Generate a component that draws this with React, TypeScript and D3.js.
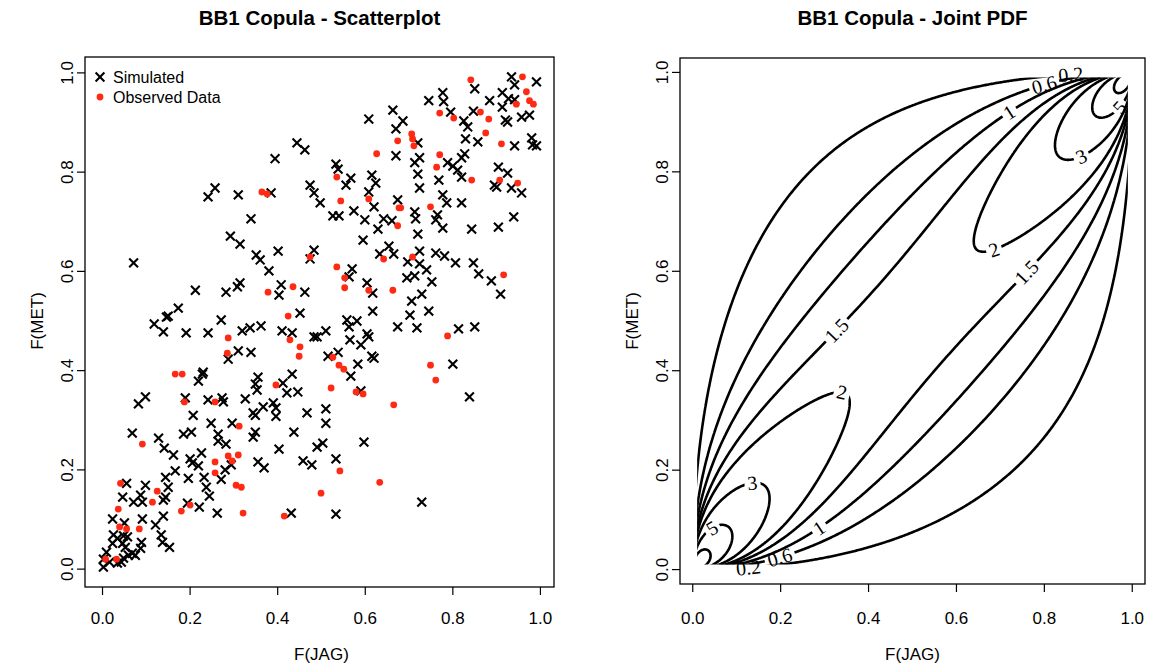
import React, { useMemo } from "react";
import * as d3 from "d3";

// ---------- scatterplot data (pseudo-observations) ----------
const simJag = [
  0.241, 0.257, 0.310, 0.292, 0.314, 0.071, 0.212, 0.282, 0.308, 0.314,
  0.173, 0.150, 0.146, 0.118, 0.139, 0.191, 0.241, 0.271, 0.319, 0.310,
  0.287, 0.230, 0.228, 0.219, 0.098, 0.082, 0.189, 0.241, 0.273, 0.276,
  0.326, 0.663, 0.608, 0.670, 0.670, 0.444, 0.462, 0.394, 0.533, 0.538,
  0.567, 0.556, 0.615, 0.624, 0.608, 0.620, 0.674, 0.474, 0.483, 0.497,
  0.385, 0.339, 0.526, 0.540, 0.574, 0.599, 0.629, 0.642, 0.661, 0.850,
  0.934, 0.991, 0.941, 0.913, 0.927, 0.941, 0.913, 0.777, 0.779, 0.745,
  0.884, 0.795, 0.847, 0.825, 0.834, 0.920, 0.925, 0.957, 0.975, 0.686,
  0.829, 0.857, 0.941, 0.980, 0.982, 0.991, 0.720, 0.827, 0.820, 0.724,
  0.713, 0.788, 0.800, 0.811, 0.720, 0.820, 0.904, 0.925, 0.895, 0.900,
  0.934, 0.957, 0.724, 0.768, 0.777, 0.786, 0.820, 0.713, 0.715, 0.765,
  0.761, 0.777, 0.843, 0.904, 0.939, 0.720, 0.351, 0.360, 0.380, 0.401,
  0.483, 0.474, 0.570, 0.563, 0.595, 0.654, 0.633, 0.665, 0.408, 0.403,
  0.462, 0.604, 0.617, 0.617, 0.451, 0.337, 0.362, 0.410, 0.433, 0.483,
  0.490, 0.510, 0.558, 0.581, 0.563, 0.565, 0.590, 0.604, 0.608, 0.674,
  0.339, 0.515, 0.538, 0.583, 0.615, 0.620, 0.567, 0.433, 0.412, 0.355,
  0.349, 0.353, 0.421, 0.446, 0.590, 0.697, 0.724, 0.761, 0.781, 0.806,
  0.724, 0.740, 0.847, 0.859, 0.888, 0.909, 0.695, 0.713, 0.752, 0.729,
  0.706, 0.745, 0.702, 0.718, 0.813, 0.850, 0.800, 0.838, 0.207, 0.248,
  0.296, 0.068, 0.128, 0.141, 0.162, 0.185, 0.203, 0.264, 0.264, 0.282,
  0.226, 0.200, 0.205, 0.219, 0.280, 0.294, 0.166, 0.144, 0.150, 0.196,
  0.232, 0.237, 0.244, 0.271, 0.055, 0.046, 0.098, 0.087, 0.071, 0.091,
  0.144, 0.139, 0.023, 0.050, 0.091, 0.139, 0.121, 0.134, 0.137, 0.153,
  0.194, 0.221, 0.262, 0.025, 0.034, 0.048, 0.057, 0.023, 0.046, 0.052,
  0.089, 0.087, 0.075, 0.068, 0.059, 0.009, 0.002, 0.002, 0.016, 0.034,
  0.043, 0.048, 0.344, 0.349, 0.367, 0.390, 0.396, 0.396, 0.467, 0.510,
  0.510, 0.349, 0.344, 0.437, 0.403, 0.490, 0.503, 0.597, 0.355, 0.369,
  0.458, 0.478, 0.533, 0.431, 0.533, 0.729,
];
const simMet = [
  0.750, 0.768, 0.754, 0.671, 0.655, 0.617, 0.562, 0.558, 0.569, 0.577,
  0.526, 0.510, 0.508, 0.494, 0.478, 0.476, 0.476, 0.502, 0.480, 0.440,
  0.423, 0.397, 0.393, 0.379, 0.347, 0.333, 0.345, 0.341, 0.345, 0.337,
  0.343, 0.925, 0.907, 0.887, 0.833, 0.859, 0.845, 0.827, 0.816, 0.806,
  0.788, 0.774, 0.794, 0.778, 0.760, 0.730, 0.744, 0.774, 0.758, 0.738,
  0.758, 0.706, 0.712, 0.712, 0.722, 0.704, 0.685, 0.706, 0.702, 0.968,
  0.992, 0.982, 0.976, 0.960, 0.948, 0.946, 0.931, 0.960, 0.942, 0.944,
  0.944, 0.921, 0.923, 0.903, 0.891, 0.905, 0.901, 0.911, 0.915, 0.903,
  0.867, 0.861, 0.853, 0.869, 0.855, 0.853, 0.859, 0.837, 0.829, 0.829,
  0.819, 0.819, 0.812, 0.804, 0.796, 0.790, 0.810, 0.798, 0.774, 0.770,
  0.768, 0.758, 0.768, 0.784, 0.754, 0.738, 0.738, 0.720, 0.706, 0.714,
  0.704, 0.687, 0.685, 0.689, 0.710, 0.675, 0.633, 0.623, 0.601, 0.641,
  0.643, 0.625, 0.605, 0.589, 0.663, 0.651, 0.635, 0.635, 0.573, 0.552,
  0.558, 0.577, 0.556, 0.520, 0.516, 0.486, 0.490, 0.480, 0.476, 0.468,
  0.468, 0.480, 0.502, 0.500, 0.488, 0.462, 0.452, 0.474, 0.468, 0.488,
  0.437, 0.429, 0.437, 0.413, 0.429, 0.425, 0.389, 0.393, 0.375, 0.387,
  0.373, 0.361, 0.355, 0.357, 0.359, 0.619, 0.641, 0.637, 0.631, 0.617,
  0.615, 0.603, 0.617, 0.595, 0.581, 0.554, 0.587, 0.591, 0.579, 0.554,
  0.540, 0.520, 0.512, 0.486, 0.484, 0.488, 0.413, 0.347, 0.310, 0.294,
  0.294, 0.274, 0.264, 0.244, 0.230, 0.272, 0.276, 0.272, 0.258, 0.252,
  0.234, 0.222, 0.214, 0.208, 0.200, 0.210, 0.198, 0.185, 0.165, 0.183,
  0.185, 0.165, 0.147, 0.181, 0.173, 0.145, 0.169, 0.149, 0.135, 0.135,
  0.145, 0.139, 0.101, 0.093, 0.101, 0.107, 0.089, 0.069, 0.054, 0.044,
  0.133, 0.125, 0.113, 0.069, 0.062, 0.067, 0.065, 0.052, 0.052, 0.044,
  0.054, 0.042, 0.028, 0.032, 0.028, 0.034, 0.020, 0.004, 0.014, 0.012,
  0.014, 0.022, 0.315, 0.310, 0.327, 0.335, 0.325, 0.308, 0.315, 0.323,
  0.294, 0.276, 0.266, 0.276, 0.242, 0.246, 0.254, 0.256, 0.216, 0.204,
  0.218, 0.210, 0.222, 0.113, 0.111, 0.135,
];
const obsJag = [
  0.674, 0.626, 0.535, 0.608, 0.677, 0.544, 0.364, 0.376, 0.674, 0.841,
  0.959, 0.968, 0.945, 0.975, 0.984, 0.770, 0.802, 0.863, 0.882, 0.875,
  0.911, 0.706, 0.708, 0.711, 0.770, 0.763, 0.843, 0.907, 0.948, 0.681,
  0.749, 0.287, 0.285, 0.166, 0.182, 0.187, 0.257, 0.474, 0.535, 0.553,
  0.553, 0.642, 0.378, 0.435, 0.608, 0.663, 0.424, 0.428, 0.451, 0.449,
  0.526, 0.540, 0.551, 0.396, 0.522, 0.579, 0.595, 0.665, 0.708, 0.916,
  0.788, 0.749, 0.761, 0.312, 0.091, 0.287, 0.296, 0.310, 0.257, 0.257,
  0.305, 0.317, 0.321, 0.041, 0.125, 0.114, 0.036, 0.039, 0.055, 0.084,
  0.180, 0.200, 0.007, 0.032, 0.542, 0.633, 0.499, 0.415,
];
const obsMet = [
  0.863, 0.837, 0.790, 0.746, 0.728, 0.742, 0.760, 0.756, 0.692, 0.986,
  0.992, 0.962, 0.937, 0.944, 0.937, 0.919, 0.909, 0.921, 0.907, 0.879,
  0.857, 0.877, 0.867, 0.853, 0.835, 0.810, 0.784, 0.784, 0.778, 0.728,
  0.730, 0.466, 0.435, 0.393, 0.393, 0.337, 0.337, 0.629, 0.609, 0.587,
  0.567, 0.625, 0.558, 0.569, 0.562, 0.562, 0.510, 0.462, 0.448, 0.429,
  0.427, 0.411, 0.403, 0.371, 0.365, 0.357, 0.353, 0.331, 0.629, 0.593,
  0.470, 0.411, 0.381, 0.288, 0.252, 0.228, 0.218, 0.230, 0.216, 0.194,
  0.169, 0.165, 0.113, 0.173, 0.157, 0.135, 0.121, 0.085, 0.081, 0.081,
  0.117, 0.129, 0.020, 0.020, 0.198, 0.175, 0.153, 0.107,
];

// ---------- axes ----------
const axisTicks = [0, 0.2, 0.4, 0.6, 0.8, 1];
const axisTickLabels = ["0.0", "0.2", "0.4", "0.6", "0.8", "1.0"];

// ---------- fitted BB1 copula ----------
const bb1Theta = 0.6;
const bb1Delta = 2.0;
const contourLevels = [0.2, 0.6, 1, 1.5, 2, 3, 5, 10];
// where each labelled curve carries its level text: [level, u, v]
const labelSpots: [number, number, number][] = [
  [0.2, 0.07, 0.0], [0.2, 0.934, 0.995],
  [0.6, 0.198, 0.028], [0.6, 0.8, 0.97],
  [1, 0.289, 0.083], [1, 0.717, 0.925],
  [1.5, 0.369, 0.444], [1.5, 0.797, 0.566],
  [2, 0.342, 0.363], [2, 0.681, 0.657],
  [3, 0.137, 0.17], [3, 0.877, 0.844],
  [5, 0.055, 0.069], [5, 0.961, 0.938],
];

// BB1 (Clayton-Gumbel) density: c(u,v) = psi''(s) * phi'(u) * phi'(v)
function bb1Density(u: number, v: number, th: number, de: number): number {
  const tu = Math.pow(u, -th) - 1;
  const tv = Math.pow(v, -th) - 1;
  const s = Math.pow(tu, de) + Math.pow(tv, de);
  const w = Math.pow(s, 1 / de);
  const dU = de * Math.pow(tu, de - 1) * th * Math.pow(u, -th - 1);
  const dV = de * Math.pow(tv, de - 1) * th * Math.pow(v, -th - 1);
  const psi2 =
    (1 / (th * de)) *
    Math.pow(1 + w, -1 / th - 2) *
    Math.pow(s, 1 / de - 2) *
    (((1 + th) / (th * de)) * w + (1 - 1 / de) * (1 + w));
  return psi2 * dU * dV;
}

const W = 1149;
const H = 667;
const SANS = '"Liberation Sans", Arial, Helvetica, sans-serif';
const SERIF = '"Liberation Serif", "Times New Roman", serif';
const RED = "#ff2a14";

const leftBox = { x0: 85, x1: 554, y0: 57, y1: 587 };
const rightBox = { x0: 680, x1: 1145, y0: 58, y1: 584 };

const xL = d3.scaleLinear().domain([-0.04, 1.031]).range([leftBox.x0, leftBox.x1]);
const yL = d3.scaleLinear().domain([-0.036, 1.032]).range([leftBox.y1, leftBox.y0]);
const xR = d3.scaleLinear().domain([-0.029, 1.029]).range([rightBox.x0, rightBox.x1]);
const yR = d3.scaleLinear().domain([-0.029, 1.029]).range([rightBox.y1, rightBox.y0]);

// evaluation grid of the density and the window the curves are shown in
const G0 = 0.004;
const G1 = 0.996;
const GRID_LO = 0.01;
const GRID_HI = 0.99;

function labelWidth(txt: string, fs: number) {
  let w = 0;
  for (const ch of txt) w += ch === "." ? 0.25 : 0.5;
  return w * fs;
}

type Box = { x0: number; x1: number; y0: number; y1: number };

function Axes({ box, x, y }: { box: Box; x: d3.ScaleLinear<number, number>; y: d3.ScaleLinear<number, number> }) {
  const tick = 8;
  return (
    <g fontFamily={SANS} fontSize={17} fill="#000">
      <rect x={box.x0} y={box.y0} width={box.x1 - box.x0} height={box.y1 - box.y0} fill="none" stroke="#000" strokeWidth={1.3} />
      {axisTicks.map((t, i) => (
        <g key={"x" + i}>
          <line x1={x(t)} x2={x(t)} y1={box.y1} y2={box.y1 + tick} stroke="#000" strokeWidth={1.2} />
          <text x={x(t)} y={618} textAnchor="middle" dominantBaseline="central">{axisTickLabels[i]}</text>
        </g>
      ))}
      {axisTicks.map((t, i) => (
        <g key={"y" + i}>
          <line x1={box.x0 - tick} x2={box.x0} y1={y(t)} y2={y(t)} stroke="#000" strokeWidth={1.2} />
          <text transform={`translate(${box.x0 - 18},${y(t)}) rotate(-90)`} textAnchor="middle" dominantBaseline="central">
            {axisTickLabels[i]}
          </text>
        </g>
      ))}
      <text x={(x(0) + x(1)) / 2} y={654} textAnchor="middle" dominantBaseline="central">F(JAG)</text>
      <text transform={`translate(${box.x0 - 48},${(y(0) + y(1)) / 2}) rotate(-90)`} textAnchor="middle" dominantBaseline="central">
        F(MET)
      </text>
    </g>
  );
}

export default function App() {
  const contour = useMemo(() => {
    const N = 400;
    const h = (G1 - G0) / (N - 1);
    const values = new Float64Array(N * N);
    for (let j = 0; j < N; j++) {
      const v = G0 + j * h;
      for (let i = 0; i < N; i++) {
        const u = G0 + i * h;
        values[j * N + i] = bb1Density(u, v, bb1Theta, bb1Delta);
      }
    }
    const polys = d3.contours().size([N, N]).thresholds(contourLevels)(values as any);
    const toData = (c: number) => G0 + (c - 0.5) * h;
    const lines = polys.map((mp) => {
      const rings: [number, number][][] = [];
      const dataRings: [number, number][][] = [];
      mp.coordinates.forEach((poly) =>
        poly.forEach((ring) => {
          const d = ring.map(([cx, cy]) => [toData(cx), toData(cy)] as [number, number]);
          dataRings.push(d);
          rings.push(d.map(([u, v]) => [xR(u), yR(v)] as [number, number]));
        })
      );
      const path = rings
        .map((r) => "M" + r.map((p) => p[0].toFixed(2) + "," + p[1].toFixed(2)).join("L") + "Z")
        .join("");
      return { level: mp.value, rings, dataRings, path };
    });

    const fs = 20;
    const lo = G0 - 0.0005;
    const hi = G1 + 0.0005;
    const labels = labelSpots.map(([level, u, v], k) => {
      const line = lines.find((l) => l.level === level)!;
      const tx = xR(u);
      const ty = yR(v);
      let best = { d: Infinity, r: -1, i: -1 };
      line.rings.forEach((ring, r) => {
        const dr = line.dataRings[r];
        ring.forEach((p, i) => {
          const [du, dv] = dr[i];
          // skip the frame of the grid, keep only points on the iso-line
          if (du < lo || du > hi || dv < lo || dv > hi) return;
          const d = (p[0] - tx) ** 2 + (p[1] - ty) ** 2;
          if (d < best.d) best = { d, r, i };
        });
      });
      if (best.r < 0) return null;
      const ring = line.rings[best.r];
      const n = ring.length;
      const a = ring[(best.i - 5 + n) % n];
      const b = ring[(best.i + 5) % n];
      let ang = (Math.atan2(b[1] - a[1], b[0] - a[0]) * 180) / Math.PI;
      if (ang > 90) ang -= 180;
      if (ang < -90) ang += 180;
      const p = ring[best.i];
      const txt = String(level);
      return { key: k, level, x: p[0], y: p[1], ang, txt, w: labelWidth(txt, fs) + 6, h: fs * 0.75, fs };
    });
    return { lines, labels: labels.filter(Boolean) as NonNullable<(typeof labels)[number]>[] };
  }, []);

  const clipX0 = xR(GRID_LO);
  const clipX1 = xR(GRID_HI);
  const clipY0 = yR(GRID_HI);
  const clipY1 = yR(GRID_LO);

  const xSize = 4.4;

  return (
    <svg
      width={W}
      height={H}
      viewBox={`0 0 ${W} ${H}`}
      style={{ position: "absolute", left: 0, top: 0, background: "#fff", display: "block" }}
    >
      <defs>
        <clipPath id="gridClip">
          <rect x={clipX0} y={clipY0} width={clipX1 - clipX0} height={clipY1 - clipY0} />
        </clipPath>
        {contour.lines.map((l, li) => (
          <mask id={`gap${li}`} key={li} maskUnits="userSpaceOnUse" x={0} y={0} width={W} height={H}>
            <rect x={0} y={0} width={W} height={H} fill="#fff" />
            {contour.labels
              .filter((lb) => lb.level === l.level)
              .map((lb) => (
                <rect
                  key={lb.key}
                  x={-lb.w / 2}
                  y={-lb.h / 2}
                  width={lb.w}
                  height={lb.h}
                  fill="#000"
                  transform={`translate(${lb.x},${lb.y}) rotate(${lb.ang})`}
                />
              ))}
          </mask>
        ))}
      </defs>
      <rect x={0} y={0} width={W} height={H} fill="#fff" />

      {/* ---------- left: scatterplot ---------- */}
      <text x={(leftBox.x0 + leftBox.x1) / 2} y={25} textAnchor="middle" fontFamily={SANS} fontWeight="bold" fontSize={20.5}>
        BB1 Copula - Scatterplot
      </text>
      <g stroke="#000" strokeWidth={2.1} strokeLinecap="butt">
        {simJag.map((u, i) => {
          const cx = xL(u);
          const cy = yL(simMet[i]);
          return (
            <path key={i} d={`M${cx - xSize},${cy - xSize}L${cx + xSize},${cy + xSize}M${cx - xSize},${cy + xSize}L${cx + xSize},${cy - xSize}`} />
          );
        })}
      </g>
      <g fill={RED}>
        {obsJag.map((u, i) => (
          <circle key={i} cx={xL(u)} cy={yL(obsMet[i])} r={3.4} />
        ))}
      </g>
      <g fontFamily={SANS} fontSize={16}>
        <path d={`M${100 - xSize},${77 - xSize}L${100 + xSize},${77 + xSize}M${100 - xSize},${77 + xSize}L${100 + xSize},${77 - xSize}`} stroke="#000" strokeWidth={2.1} />
        <text x={113} y={77} dominantBaseline="central">Simulated</text>
        <circle cx={100} cy={97} r={3.4} fill={RED} />
        <text x={113} y={97} dominantBaseline="central">Observed Data</text>
      </g>
      <Axes box={leftBox} x={xL} y={yL} />

      {/* ---------- right: joint density contours ---------- */}
      <text x={(rightBox.x0 + rightBox.x1) / 2} y={25} textAnchor="middle" fontFamily={SANS} fontWeight="bold" fontSize={20.5}>
        BB1 Copula - Joint PDF
      </text>
      {contour.lines.map((l, li) => (
        <g key={li}>
          <path
            d={l.path}
            fill="none"
            stroke="#000"
            strokeWidth={2.6}
            strokeLinejoin="round"
            clipPath="url(#gridClip)"
            mask={`url(#gap${li})`}
          />
          {contour.labels
            .filter((lb) => lb.level === l.level)
            .map((lb) => (
              <text
                key={lb.key}
                fontFamily={SERIF}
                fontSize={lb.fs}
                textAnchor="middle"
                dominantBaseline="central"
                transform={`translate(${lb.x},${lb.y}) rotate(${lb.ang})`}
              >
                {lb.txt}
              </text>
            ))}
        </g>
      ))}
      <Axes box={rightBox} x={xR} y={yR} />
    </svg>
  );
}
